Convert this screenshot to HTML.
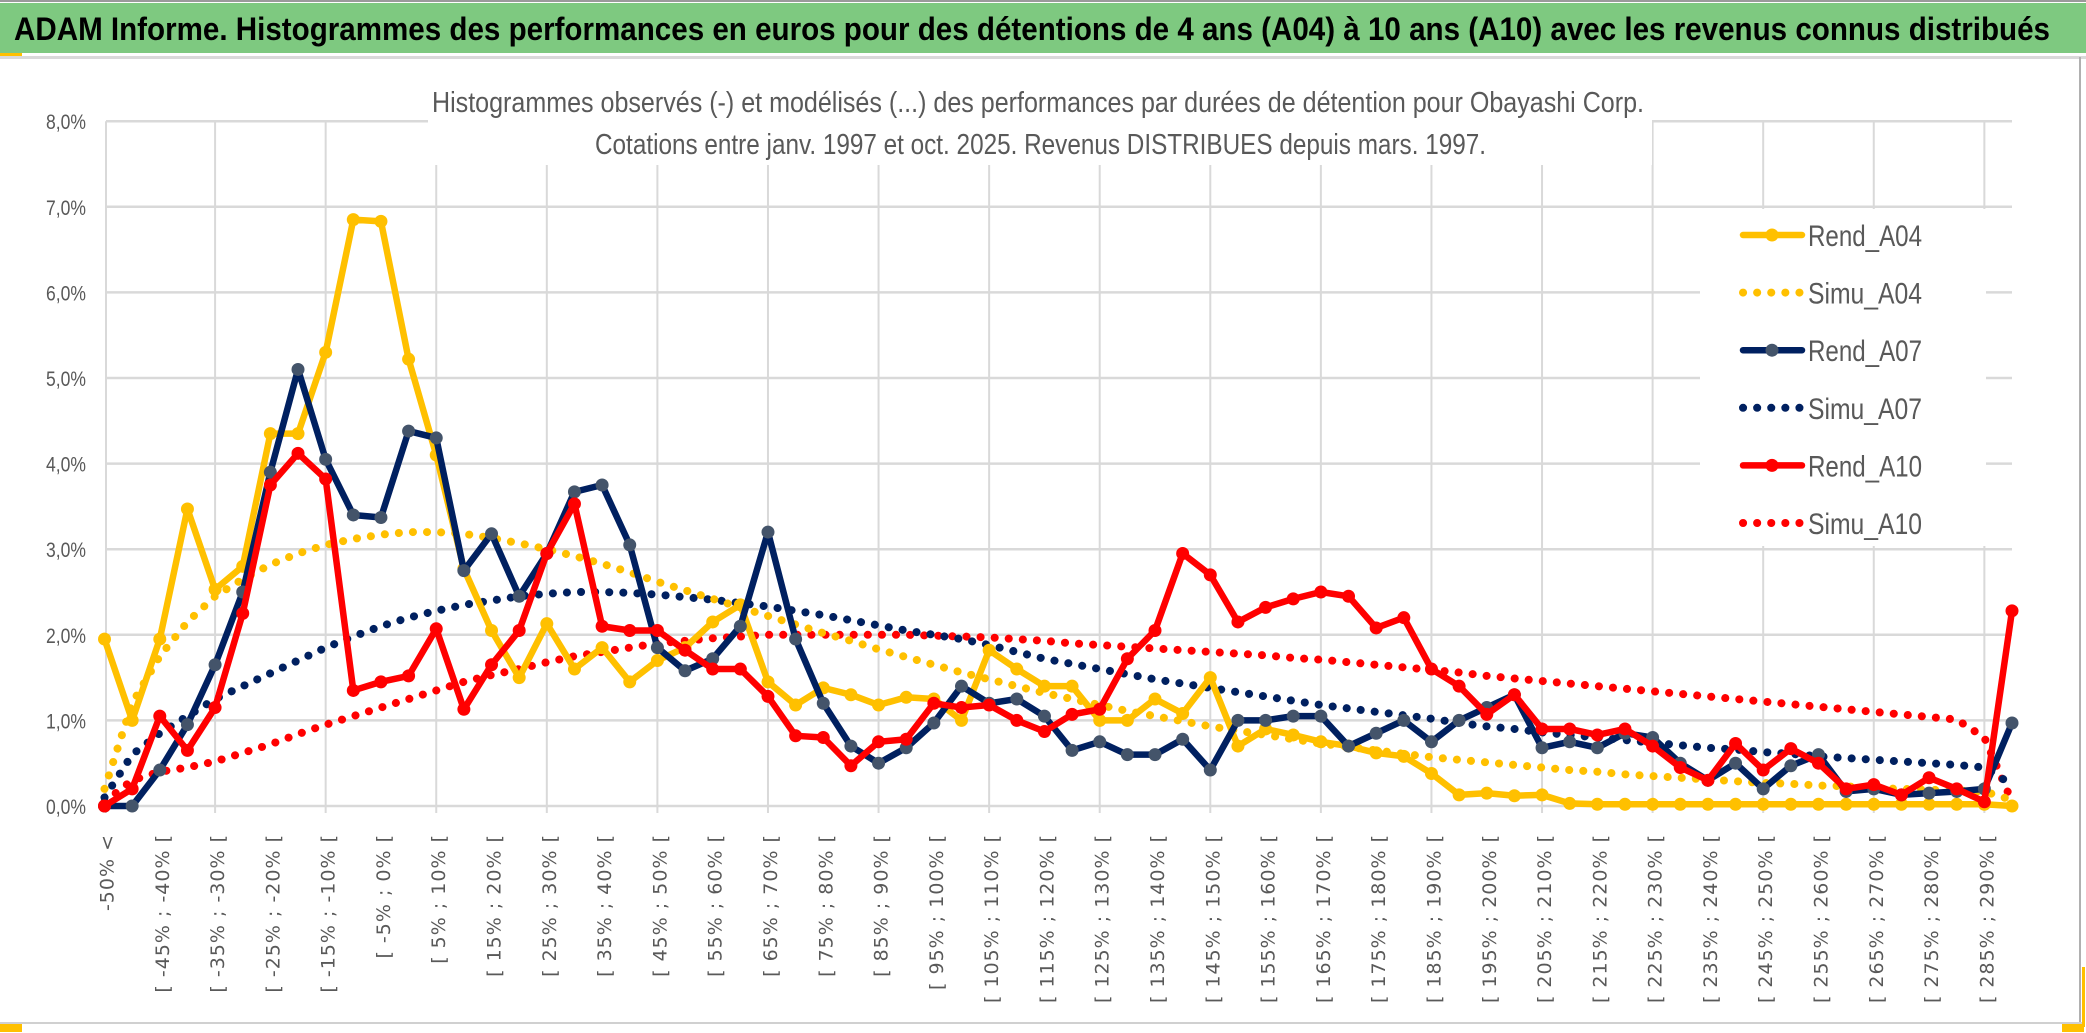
<!DOCTYPE html>
<html><head><meta charset="utf-8"><style>
html,body{margin:0;padding:0;background:#fff;}
svg{display:block;}
</style></head><body>
<svg id="chart" width="2086" height="1033" viewBox="0 0 2086 1033" xmlns="http://www.w3.org/2000/svg">
<rect x="0" y="0" width="2086" height="1033" fill="#fff"/>
<rect x="0" y="0" width="2086" height="2" fill="#9a9a9a"/>
<rect x="0" y="3" width="2086" height="50" fill="#7ec980"/>
<text x="14" y="40" font-family="'Liberation Sans Narrow','Liberation Sans',sans-serif" font-weight="bold" font-size="32" fill="#000" textLength="2036" lengthAdjust="spacingAndGlyphs">ADAM Informe. Histogrammes des performances en euros pour des détentions de 4 ans (A04) à 10 ans (A10) avec les revenus connus distribués</text>
<rect x="0" y="53" width="22" height="4" fill="#ffc000"/>
<rect x="0" y="56" width="2086" height="3" fill="#d9d9d9"/>
<rect x="2079" y="57" width="2" height="968" fill="#b0b0b0"/>
<rect x="0" y="1022" width="2082" height="2" fill="#d0d0d0"/>
<rect x="0" y="1024" width="22" height="8" fill="#ffc000"/>
<rect x="2062" y="1024" width="22" height="8" fill="#ffc000"/>
<rect x="2082" y="967" width="3" height="60" fill="#ffc000"/>
<g id="grid"></g>
<rect x="428" y="84" width="1224" height="81" fill="#fff"/>
<text x="432" y="112" font-family="'Liberation Sans Narrow','Liberation Sans',sans-serif" font-size="29" fill="#595959" textLength="1212" lengthAdjust="spacingAndGlyphs">Histogrammes observés (-) et modélisés (...) des performances par durées de détention pour Obayashi Corp.</text>
<text x="595" y="154" font-family="'Liberation Sans Narrow','Liberation Sans',sans-serif" font-size="29" fill="#595959" textLength="891" lengthAdjust="spacingAndGlyphs">Cotations entre janv. 1997 et oct. 2025. Revenus DISTRIBUES depuis mars. 1997.</text>
<g id="yaxis"></g>
<g id="xaxis"></g>
<g id="series"></g>
<rect x="1700" y="209" width="286" height="337" fill="#fff"/>
<g id="legend"></g>
</svg>
<script>
const categories = ["-50% <"];
for (let k = 1; k < 70; k++) { categories.push("[ " + (-55 + 5 * k) + "% ; " + (-50 + 5 * k) + "% ["); }
const yTicks = ["0,0%","1,0%","2,0%","3,0%","4,0%","5,0%","6,0%","7,0%","8,0%"];
const rendA04 = [1.95,1.0,1.95,3.47,2.53,2.8,4.35,4.35,5.3,6.85,6.83,5.22,4.1,2.77,2.05,1.5,2.13,1.6,1.85,1.45,1.7,1.85,2.15,2.35,1.45,1.18,1.38,1.3,1.18,1.27,1.25,1.0,1.82,1.6,1.4,1.4,1.0,1.0,1.25,1.08,1.5,0.7,0.9,0.83,0.75,0.7,0.62,0.58,0.38,0.13,0.15,0.12,0.13,0.03,0.02,0.02,0.02,0.02,0.02,0.02,0.02,0.02,0.02,0.02,0.02,0.02,0.02,0.02,0.02,0.0];
const simuA04 = [0.2,1.2,1.75,2.15,2.45,2.65,2.82,2.95,3.05,3.12,3.17,3.2,3.2,3.18,3.13,3.07,3.0,2.92,2.83,2.73,2.62,2.52,2.42,2.32,2.22,2.12,2.02,1.93,1.83,1.74,1.65,1.56,1.48,1.4,1.32,1.25,1.18,1.11,1.05,0.99,0.93,0.88,0.83,0.78,0.73,0.69,0.65,0.61,0.57,0.54,0.51,0.48,0.45,0.42,0.4,0.37,0.35,0.33,0.31,0.29,0.27,0.26,0.24,0.23,0.21,0.2,0.19,0.18,0.17,0.07];
const rendA07 = [0,0,0.42,0.95,1.65,2.5,3.9,5.1,4.05,3.4,3.37,4.38,4.3,2.75,3.18,2.45,2.95,3.67,3.75,3.05,1.85,1.58,1.72,2.1,3.2,1.95,1.2,0.7,0.5,0.68,0.97,1.4,1.2,1.25,1.05,0.65,0.75,0.6,0.6,0.78,0.42,1.0,1.0,1.05,1.05,0.7,0.85,1.0,0.75,1.0,1.15,1.3,0.68,0.75,0.68,0.85,0.8,0.5,0.3,0.5,0.2,0.47,0.6,0.17,0.2,0.13,0.15,0.17,0.2,0.97];
const simuA07 = [0.1,0.6,0.85,1.05,1.25,1.4,1.55,1.7,1.85,1.98,2.1,2.2,2.28,2.35,2.4,2.45,2.48,2.5,2.5,2.49,2.47,2.44,2.41,2.37,2.33,2.28,2.23,2.17,2.11,2.05,2.0,1.95,1.88,1.8,1.72,1.66,1.6,1.54,1.48,1.43,1.38,1.33,1.28,1.23,1.18,1.14,1.1,1.06,1.02,0.97,0.93,0.9,0.86,0.83,0.8,0.77,0.74,0.71,0.68,0.66,0.63,0.61,0.58,0.56,0.54,0.52,0.5,0.48,0.45,0.25];
const rendA10 = [0,0.2,1.05,0.65,1.15,2.25,3.75,4.12,3.82,1.35,1.45,1.52,2.07,1.13,1.65,2.05,2.95,3.53,2.1,2.05,2.05,1.82,1.6,1.6,1.28,0.82,0.8,0.47,0.75,0.78,1.2,1.15,1.18,1.0,0.87,1.07,1.13,1.72,2.05,2.95,2.7,2.15,2.32,2.42,2.5,2.45,2.08,2.2,1.6,1.4,1.07,1.3,0.9,0.9,0.83,0.9,0.7,0.45,0.3,0.73,0.42,0.67,0.5,0.2,0.25,0.13,0.33,0.2,0.05,2.28];
const simuA10 = [0.05,0.3,0.4,0.45,0.52,0.62,0.72,0.84,0.95,1.05,1.15,1.25,1.35,1.45,1.53,1.6,1.68,1.75,1.8,1.85,1.9,1.93,1.96,1.98,2.0,2.0,2.0,2.0,2.0,2.0,1.99,1.98,1.97,1.95,1.93,1.9,1.88,1.86,1.84,1.82,1.8,1.78,1.76,1.73,1.71,1.68,1.65,1.62,1.59,1.56,1.52,1.49,1.46,1.43,1.4,1.37,1.34,1.31,1.28,1.25,1.22,1.19,1.16,1.13,1.1,1.07,1.04,1.01,0.8,0.05];

const NS = "http://www.w3.org/2000/svg";
const X0 = 104.5, DX = 27.645, Y0 = 806, DY = 85.6;
function xPos(i) { return X0 + i * DX; }
function yPos(v) { return Y0 - v * DY; }
function mk(tag, attrs, parent) {
  const e = document.createElementNS(NS, tag);
  for (const k in attrs) e.setAttribute(k, attrs[k]);
  parent.appendChild(e);
  return e;
}
const grid = document.getElementById("grid");
for (let t = 0; t < yTicks.length; t++) {
  const l = mk("line", {x1: 106, x2: 2012, y1: yPos(t), y2: yPos(t), stroke: "#d9d9d9", "stroke-width": 2.5}, grid);
  
  
}
for (let i = 0; i < categories.length; i += 4) {
  const x = i === 0 ? 106 : xPos(i);
  const l = mk("line", {x1: x, x2: x, y1: yPos(8), y2: 813, stroke: "#d9d9d9", "stroke-width": 2}, grid);
  
  
}
const yaxis = document.getElementById("yaxis");
yTicks.forEach((t, k) => {
  const tx = mk("text", {x: 86, y: yPos(k) + 8, "text-anchor": "end", "font-family": "'Liberation Sans Narrow','Liberation Sans',sans-serif", "font-size": 21, fill: "#595959", textLength: 40, lengthAdjust: "spacingAndGlyphs"}, yaxis);
  tx.textContent = t;
  
  
});
const xaxis = document.getElementById("xaxis");
categories.forEach((c, i) => {
  if (i % 2 !== 0) return;
  const bx = xPos(i) + 9, by = 834;
  const tx = mk("text", {x: bx, y: by, "text-anchor": "end", transform: "rotate(-90 " + bx + " " + by + ")", "font-family": "'DejaVu Sans',sans-serif", "font-size": 19, "letter-spacing": 1, fill: "#595959"}, xaxis);
  tx.textContent = c;
  
  
});
const series = document.getElementById("series");
function dotted(vals, color, name) {
  const p = mk("polyline", {points: vals.map((v, i) => xPos(i) + "," + yPos(v)).join(" "), fill: "none", stroke: color, "stroke-width": 8, "stroke-dasharray": "0.1 14", "stroke-linecap": "round"}, series);
  
  
}
function solid(vals, color, mcolor, name) {
  const g = mk("g", {}, series);
  
  
  const p = mk("polyline", {points: vals.map((v, i) => xPos(i) + "," + yPos(v)).join(" "), fill: "none", stroke: color, "stroke-width": 6.5, "stroke-linejoin": "round"}, g);
  
  
  vals.forEach((v, i) => {
    const c = mk("circle", {cx: xPos(i), cy: yPos(v), r: 6.5, fill: mcolor}, g);
    
    
  });
}
dotted(simuA10, "#ff0000", "simu-a10-line");
dotted(simuA07, "#002060", "simu-a07-line");
dotted(simuA04, "#ffc000", "simu-a04-line");
solid(rendA04, "#ffc000", "#ffc000", "rend-a04-series");
solid(rendA07, "#002060", "#44546a", "rend-a07-series");
solid(rendA10, "#ff0000", "#ff0000", "rend-a10-series");

const legend = document.getElementById("legend");
const legNames = ["Rend_A04","Simu_A04","Rend_A07","Simu_A07","Rend_A10","Simu_A10"];
const legColors = ["#ffc000","#ffc000","#002060","#002060","#ff0000","#ff0000"];
const legMarker = ["#ffc000",null,"#44546a",null,"#ff0000",null];
legNames.forEach((n, k) => {
  const y = 235 + k * 57.6;
  const g = mk("g", {}, legend);
  
  
  if (legMarker[k]) {
    mk("line", {x1: 1743, x2: 1802, y1: y, y2: y, stroke: legColors[k], "stroke-width": 6.5, "stroke-linecap": "round"}, g);
    mk("circle", {cx: 1772, cy: y, r: 6.5, fill: legMarker[k]}, g);
  } else {
    mk("line", {x1: 1743, x2: 1802, y1: y, y2: y, stroke: legColors[k], "stroke-width": 8, "stroke-dasharray": "0.1 14", "stroke-linecap": "round"}, g);
  }
  const tx = mk("text", {x: 1808, y: y + 11, "font-family": "'Liberation Sans Narrow','Liberation Sans',sans-serif", "font-size": 30, fill: "#595959", textLength: 114, lengthAdjust: "spacingAndGlyphs"}, g);
  tx.textContent = n;
  
  
});
</script>
</body></html>
